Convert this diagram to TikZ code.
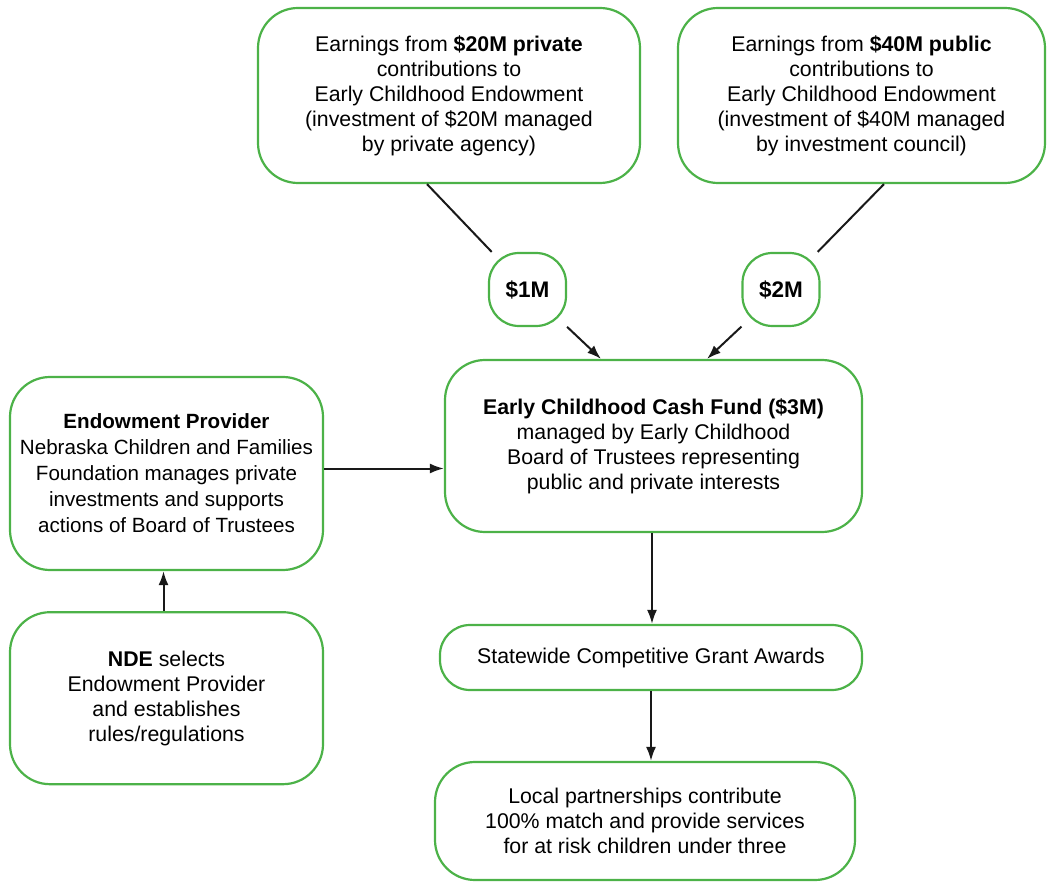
\documentclass[tikz,border=0pt]{standalone}
\usepackage{fontspec}
\setmainfont{Liberation Sans}
\usepackage{xcolor}
\usetikzlibrary{positioning, arrows.meta, calc}
\definecolor{boxgreen}{RGB}{76,178,72}

\begin{document}
\begin{tikzpicture}[
    x=1pt, y=-1pt,
    flowbox/.style={
        rectangle,
        draw=boxgreen,
        line width=2.2pt,
        rounded corners=40pt,
        align=center,
        inner sep=0pt,
        font=\fontsize{21.3}{25}\selectfont
    },
    moneybox/.style={
        flowbox,
        rounded corners=30pt,
        minimum width=77pt,
        minimum height=73pt,
        font=\fontsize{22.5}{26}\selectfont\bfseries
    },
    flowarrow/.style={
        -{Latex[length=14pt,width=10pt]},
        line width=2pt,
        black!90
    }
]
    \useasboundingbox (0,0) rectangle (1047,882);

    % Row 1: endowment earnings
    \node[flowbox, minimum width=382pt, minimum height=175pt] (private) at (449,95.5)
        {Earnings from \textbf{\$20M private}\\contributions to\\Early Childhood Endowment\\(investment of \$20M managed\\by private agency)};
    \node[flowbox, minimum width=367pt, minimum height=175pt] (public) at (861.5,95.5)
        {Earnings from \textbf{\$40M public}\\contributions to\\Early Childhood Endowment\\(investment of \$40M managed\\by investment council)};

    % Row 2: amounts
    \node[moneybox] (onem) at (527.5,289.5) {\$1M};
    \node[moneybox] (twom) at (781,289.5) {\$2M};

    % Row 3: cash fund and provider
    \node[flowbox, minimum width=417pt, minimum height=172pt] (cash) at (653.5,446)
        {\textbf{Early Childhood Cash Fund (\$3M)}\\managed by Early Childhood\\Board of Trustees representing\\public and private interests};
    \node[flowbox, minimum width=313pt, minimum height=193pt, font=\fontsize{20.6}{26}\selectfont] (provider) at (166.5,473.5)
        {\textbf{Endowment Provider}\\Nebraska Children and Families\\Foundation manages private\\investments and supports\\actions of Board of Trustees};
    \node[flowbox, minimum width=313pt, minimum height=172pt, below=40pt of provider] (nde)
        {\textbf{NDE} selects\\Endowment Provider\\and establishes\\rules/regulations};

    % Row 4: grants and partnerships
    \node[flowbox, rounded corners=30pt, minimum width=422pt, minimum height=65pt] (grants) at (651,657.5)
        {Statewide Competitive Grant Awards};
    \node[flowbox, minimum width=420pt, minimum height=118pt] (local) at (645,821)
        {Local partnerships contribute\\100\% match and provide services\\for at risk children under three};

    % Arrows
    \draw[line width=2pt, black!90] ($(private.south)+(-22,0)$) -- (onem);
    \draw[flowarrow] (onem) -- ($(cash.north)+(-52.5,0)$);
    \draw[line width=2pt, black!90] ($(public.south)+(22.5,0)$) -- (twom);
    \draw[flowarrow] (twom) -- ($(cash.north)+(53.5,0)$);
    \draw[flowarrow] ([yshift=5pt]provider.east) -- ([yshift=5pt]provider.east -| cash.west);
    \draw[flowarrow] ([xshift=-3pt]nde.north) -- ([xshift=-3pt]provider.south);
    \draw[flowarrow] ([xshift=-1.5pt]cash.south) -- ([xshift=-1.5pt]cash.south |- grants.north);
    \draw[flowarrow] (grants.south) -- (grants.south |- local.north);
\end{tikzpicture}
\end{document}
